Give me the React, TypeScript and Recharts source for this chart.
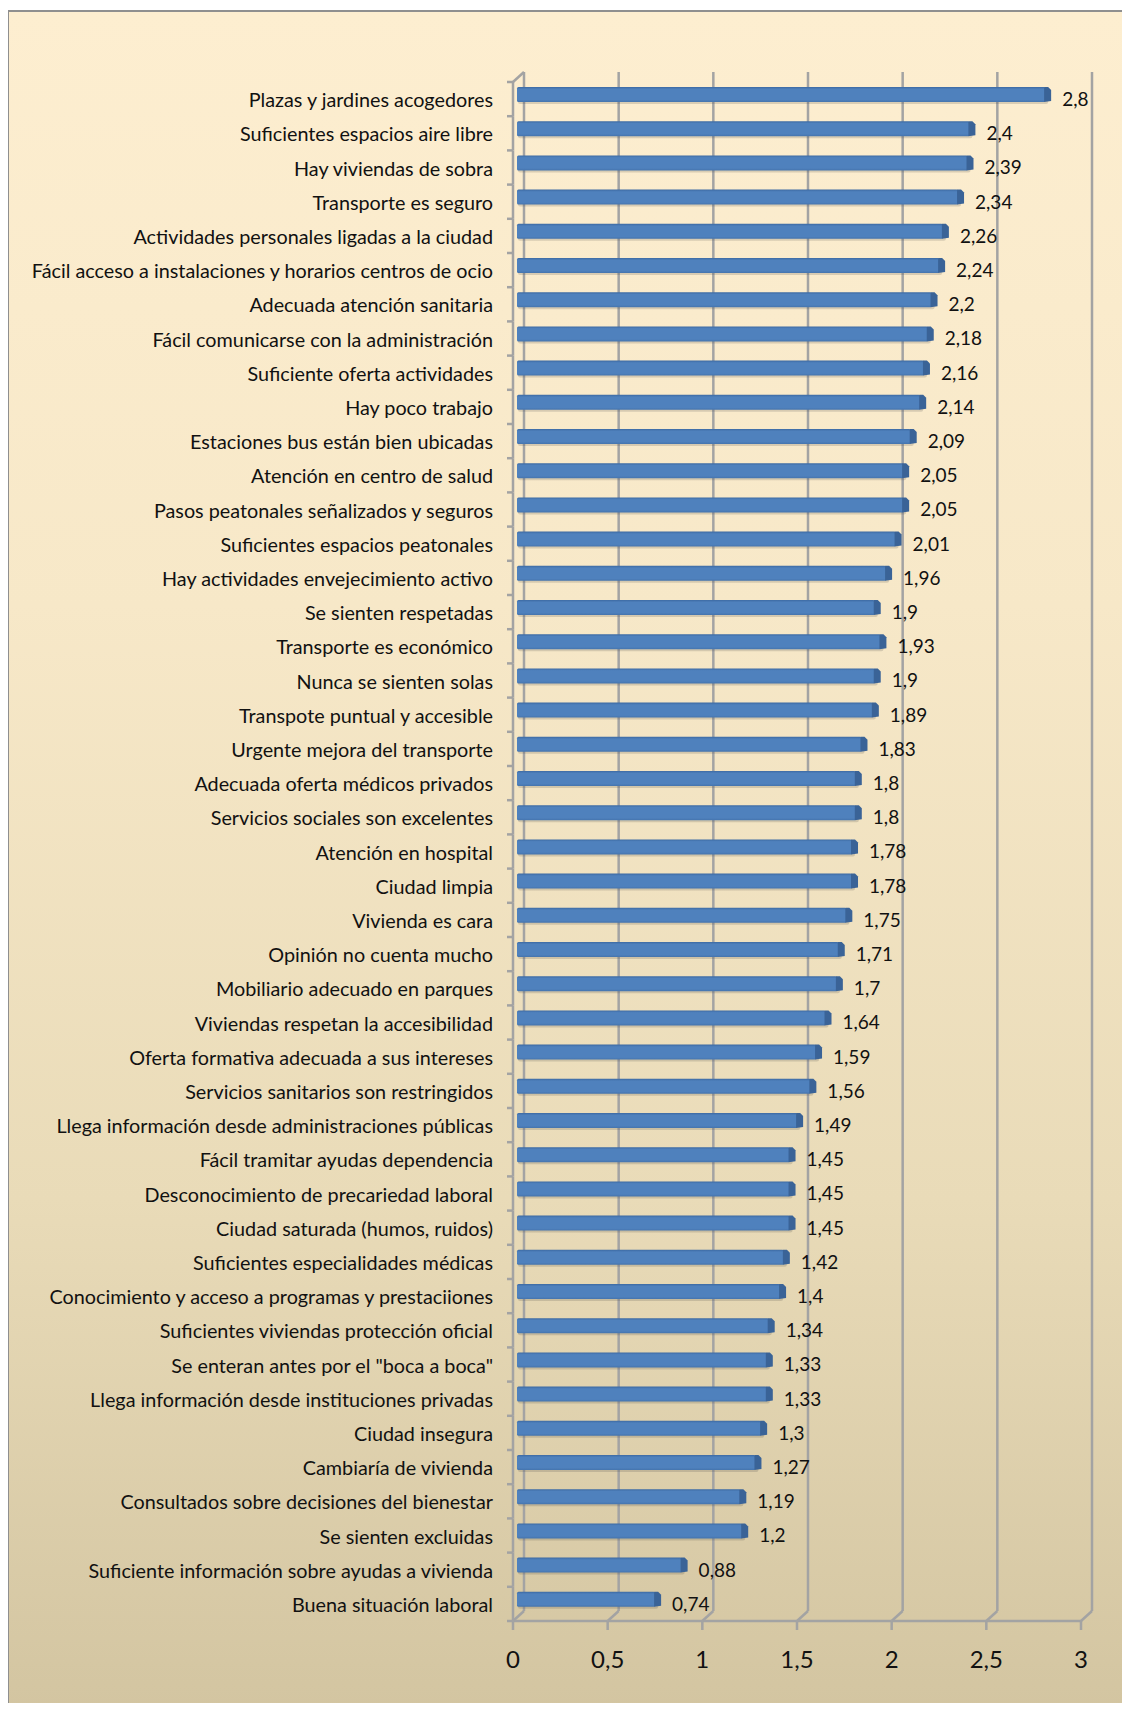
import React from 'react';
import { BarChart, Bar, XAxis, YAxis, CartesianGrid, LabelList } from 'recharts';

const categories = [
  'Plazas y jardines acogedores',
  'Suficientes espacios aire libre',
  'Hay viviendas de sobra',
  'Transporte es seguro',
  'Actividades personales ligadas a la ciudad',
  'Fácil acceso a instalaciones y horarios centros de ocio',
  'Adecuada atención sanitaria',
  'Fácil comunicarse con la administración',
  'Suficiente oferta actividades',
  'Hay poco trabajo',
  'Estaciones bus están bien ubicadas',
  'Atención en centro de salud',
  'Pasos peatonales señalizados y seguros',
  'Suficientes espacios peatonales',
  'Hay actividades envejecimiento activo',
  'Se sienten respetadas',
  'Transporte es económico',
  'Nunca se sienten solas',
  'Transpote puntual y accesible',
  'Urgente mejora del transporte',
  'Adecuada oferta médicos privados',
  'Servicios sociales son excelentes',
  'Atención en hospital',
  'Ciudad limpia',
  'Vivienda es cara',
  'Opinión no cuenta mucho',
  'Mobiliario adecuado en parques',
  'Viviendas respetan la accesibilidad',
  'Oferta formativa adecuada a sus intereses',
  'Servicios sanitarios son restringidos',
  'Llega información desde administraciones públicas',
  'Fácil tramitar ayudas dependencia',
  'Desconocimiento de precariedad laboral',
  'Ciudad saturada (humos, ruidos)',
  'Suficientes especialidades médicas',
  'Conocimiento y acceso a programas y prestaciiones',
  'Suficientes viviendas protección oficial',
  'Se enteran antes por el "boca a boca"',
  'Llega información desde instituciones privadas',
  'Ciudad insegura',
  'Cambiaría de vivienda',
  'Consultados sobre decisiones del bienestar',
  'Se sienten excluidas',
  'Suficiente información sobre ayudas a vivienda',
  'Buena situación laboral',
];

const scores = [
  2.8, 2.4, 2.39, 2.34, 2.26, 2.24, 2.2, 2.18, 2.16, 2.14, 2.09, 2.05, 2.05, 2.01, 1.96,
  1.9, 1.93, 1.9, 1.89, 1.83, 1.8, 1.8, 1.78, 1.78, 1.75, 1.71, 1.7, 1.64, 1.59, 1.56,
  1.49, 1.45, 1.45, 1.45, 1.42, 1.4, 1.34, 1.33, 1.33, 1.3, 1.27, 1.19, 1.2, 0.88, 0.74,
];

const xTicks = [0, 0.5, 1, 1.5, 2, 2.5, 3];

const data = categories.map((label, i) => ({ label, score: scores[i] }));

// chart geometry
const W = 1130;
const H = 1711;
const PLOT_LEFT = 517;
const PLOT_RIGHT = 1085;
const PLOT_TOP = 77;
const AXIS_H = 95;
const PLOT_BOTTOM = H - AXIS_H;
const BAND = (PLOT_BOTTOM - PLOT_TOP) / categories.length;
const X_STEP = (PLOT_RIGHT - PLOT_LEFT) / (xTicks.length - 1);

// pseudo-3D wall offsets (front edge and back wall)
const FRONT = { dx: -4, dy: 5 };
const BACK = { dx: 7, dy: -5 };

const FONT = 'Lato, "Open Sans", sans-serif';
const GRID = '#a3a3a3';

const fmt = (v: number) => String(v).replace('.', ',');

const BackWallLine = (props: any) => {
  const { x1, y1, y2, index } = props;
  const bx = x1 + BACK.dx;
  const fx = x1 + FRONT.dx;
  return (
    <g key={`bw-${index}`}>
      <line x1={bx} y1={y1 + BACK.dy} x2={bx} y2={y2 + BACK.dy} stroke={GRID} strokeWidth={2.5} />
      <line x1={bx} y1={y2 + BACK.dy} x2={fx} y2={y2 + FRONT.dy} stroke={GRID} strokeWidth={2.5} />
    </g>
  );
};

const CategoryTick = (props: any) => {
  const { y, payload, index, visibleTicksCount } = props;
  const fy = y + FRONT.dy;
  const ax = PLOT_LEFT + FRONT.dx;
  const top = fy - BAND / 2;
  const bottom = fy + BAND / 2;
  const last = index === visibleTicksCount - 1;
  return (
    <g>
      <line x1={ax} y1={top} x2={ax} y2={bottom} stroke={GRID} strokeWidth={2.5} />
      <line x1={ax - 6} y1={top} x2={ax} y2={top} stroke={GRID} strokeWidth={2.5} />
      {last && <line x1={ax - 6} y1={bottom} x2={ax} y2={bottom} stroke={GRID} strokeWidth={2.5} />}
      {index === 0 && (
        <line
          x1={ax}
          y1={top}
          x2={PLOT_LEFT + BACK.dx}
          y2={y - BAND / 2 + BACK.dy}
          stroke={GRID}
          strokeWidth={2.5}
        />
      )}
      <text
        x={493}
        y={fy}
        textAnchor="end"
        dominantBaseline="central"
        fontFamily={FONT}
        fontSize={19.8}
        fill="#111"
      >
        {payload.value}
      </text>
    </g>
  );
};

const ValueTick = (props: any) => {
  const { x, payload, index, visibleTicksCount } = props;
  const fx = x + FRONT.dx;
  const ay = PLOT_BOTTOM + FRONT.dy;
  const last = index === visibleTicksCount - 1;
  return (
    <g>
      {!last && <line x1={fx} y1={ay} x2={fx + X_STEP} y2={ay} stroke={GRID} strokeWidth={2.5} />}
      <line x1={fx} y1={ay} x2={fx} y2={ay + 9} stroke={GRID} strokeWidth={2.5} />
      <text
        x={fx}
        y={PLOT_BOTTOM + 42}
        textAnchor="middle"
        dominantBaseline="central"
        fontFamily={FONT}
        fontSize={24}
        fill="#111"
      >
        {fmt(payload.value)}
      </text>
    </g>
  );
};

// flat front face, darker top edge and a small end cap
const Bar3D = (props: any) => {
  const { x, y, width, height } = props;
  if (width <= 0) return null;
  const end = x + width;
  return (
    <g>
      <rect x={x + 1} y={y + 2} width={width} height={height} rx={2} fill="rgba(60,60,60,0.18)" />
      <rect x={x} y={y} width={width - 2} height={height} rx={1.5} fill="url(#barFace)" />
      <path
        d={`M${end - 3},${y} L${end + 1},${y} L${end + 4},${y + 3} L${end + 4},${y + height - 1} L${end - 3},${y + height} Z`}
        fill="#3a6397"
      />
    </g>
  );
};

const ValueLabel = (props: any) => {
  const { x, y, width, height, value } = props;
  return (
    <text
      x={x + width + 15}
      y={y + height / 2 + 4}
      textAnchor="start"
      dominantBaseline="central"
      fontFamily={FONT}
      fontSize={19}
      fill="#111"
    >
      {fmt(value)}
    </text>
  );
};

export default function App() {
  return (
    <div style={{ position: 'relative', margin: -8, width: W, height: H, overflow: 'hidden' }}>
      <div
        style={{
          position: 'absolute',
          left: 7,
          top: 10,
          width: 1113,
          height: 1695,
          border: '2px solid #8f8f8f',
          background: 'linear-gradient(to bottom, #fdeed0 0%, #f7e8c8 35%, #e9dbb8 70%, #d3c5a1 100%)',
        }}
      />
      <div style={{ position: 'absolute', left: 0, top: 0 }}>
        <BarChart
          width={W}
          height={H}
          data={data}
          layout="vertical"
          barSize={15}
          margin={{ top: PLOT_TOP, right: W - PLOT_RIGHT, bottom: 0, left: 0 }}
        >
          <defs>
            <linearGradient id="barFace" x1="0" y1="0" x2="0" y2="1">
              <stop offset="0%" stopColor="#3d6aa3" />
              <stop offset="15%" stopColor="#4f81bd" />
              <stop offset="85%" stopColor="#4f81bd" />
              <stop offset="100%" stopColor="#4574ad" />
            </linearGradient>
          </defs>
          <CartesianGrid horizontal={false} vertical={BackWallLine} />
          <XAxis
            type="number"
            domain={[0, 3]}
            ticks={xTicks}
            height={AXIS_H}
            axisLine={false}
            tickLine={false}
            tick={ValueTick}
            interval={0}
          />
          <YAxis
            type="category"
            dataKey="label"
            width={PLOT_LEFT}
            axisLine={false}
            tickLine={false}
            tick={CategoryTick}
            interval={0}
          />
          <Bar dataKey="score" shape={Bar3D} isAnimationActive={false}>
            <LabelList dataKey="score" content={ValueLabel} />
          </Bar>
        </BarChart>
      </div>
    </div>
  );
}
